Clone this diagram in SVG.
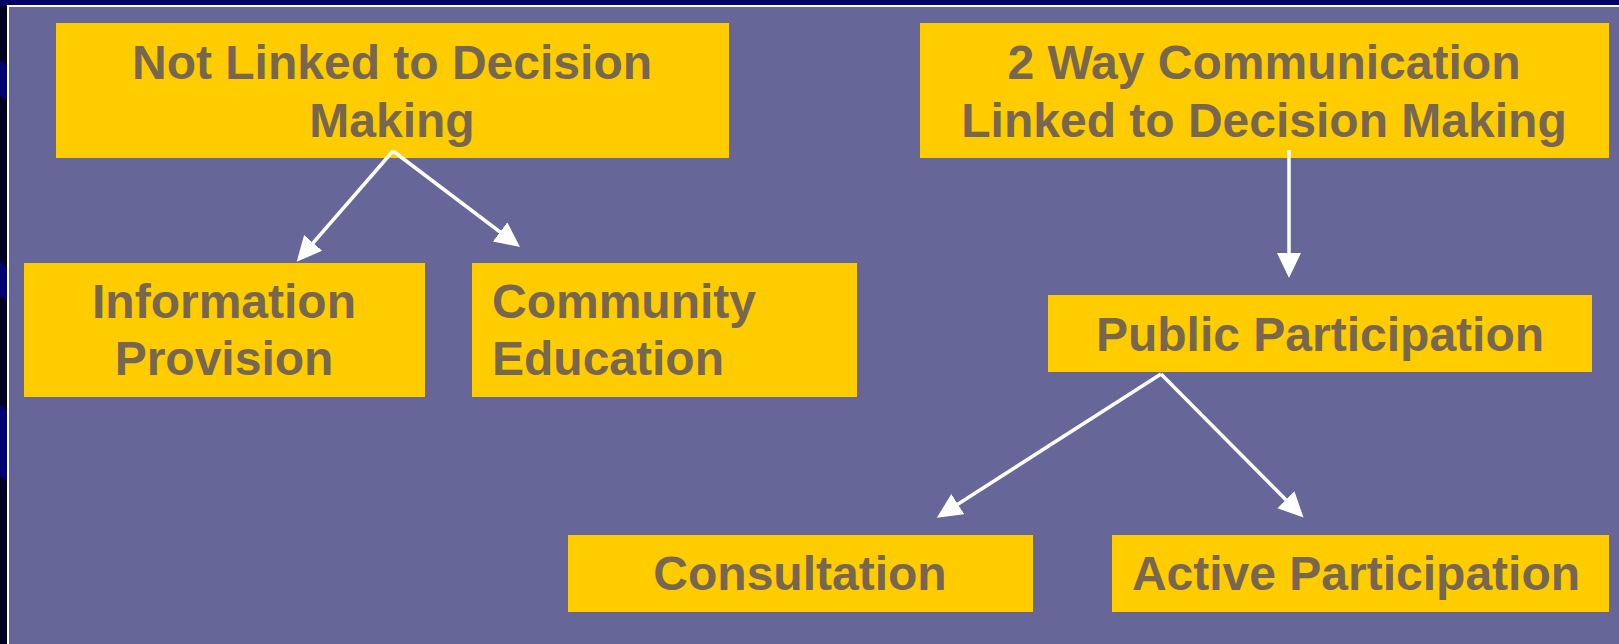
<svg xmlns="http://www.w3.org/2000/svg" width="1619" height="644" viewBox="0 0 1619 644">
  <defs>
    <style>
      .box { fill: #FFCC00; }
      .t { font-family: "Liberation Sans", Arial, sans-serif; font-weight: bold; font-size: 48px; fill: #776650; }
      .c { text-anchor: middle; }
      .edge { stroke: #FFFFFF; stroke-width: 3.5; fill: none; }
    </style>
    <marker id="ah" markerUnits="userSpaceOnUse" markerWidth="26" markerHeight="26" refX="20" refY="12" orient="auto">
      <path d="M0,0 L25,12 L0,24 Z" fill="#FFFFFF"/>
    </marker>
  </defs>
  <g id="background">
    <rect x="0" y="0" width="1619" height="644" fill="#000022"/>
    <rect x="0" y="0" width="1619" height="6" fill="#000066"/>
    <polygon points="0,60 7,66 7,100 0,96" fill="#000070"/>
    <polygon points="0,262 7,268 7,300 0,296" fill="#000070"/>
    <polygon points="0,405 7,410 7,482 0,476" fill="#000070"/>
    <rect x="7" y="5" width="1612" height="639" fill="#FFFFFF"/>
    <rect x="9" y="7" width="1610" height="637" fill="#666699"/>
  </g>
  <g id="node-not-linked">
    <rect class="box" x="56" y="23" width="673" height="135"/>
    <text class="t c" x="392" y="79">Not Linked to Decision</text>
    <text class="t c" x="392" y="137">Making</text>
  </g>
  <g id="node-2way">
    <rect class="box" x="920" y="23" width="689" height="135"/>
    <text class="t c" x="1264" y="79">2 Way Communication</text>
    <text class="t c" x="1264" y="137">Linked to Decision Making</text>
  </g>
  <g id="node-info">
    <rect class="box" x="24" y="263" width="401" height="134"/>
    <text class="t c" x="224" y="318">Information</text>
    <text class="t c" x="224" y="375">Provision</text>
  </g>
  <g id="node-community">
    <rect class="box" x="472" y="263" width="385" height="134"/>
    <text class="t" x="492" y="318">Community</text>
    <text class="t" x="492" y="375">Education</text>
  </g>
  <g id="node-public">
    <rect class="box" x="1048" y="295" width="544" height="77"/>
    <text class="t c" x="1320" y="351">Public Participation</text>
  </g>
  <g id="node-consultation">
    <rect class="box" x="568" y="535" width="465" height="77"/>
    <text class="t c" x="800" y="590">Consultation</text>
  </g>
  <g id="node-active">
    <rect class="box" x="1112" y="535" width="497" height="77"/>
    <text class="t c" x="1356" y="590">Active Participation</text>
  </g>
  <g id="edges">
    <line class="edge" x1="393" y1="151" x2="300" y2="258" marker-end="url(#ah)"/>
    <line class="edge" x1="393" y1="151" x2="516" y2="244" marker-end="url(#ah)"/>
    <line class="edge" x1="1289" y1="150" x2="1289" y2="273" stroke-width="2" marker-end="url(#ah)"/>
    <line class="edge" x1="1161" y1="374" x2="941" y2="515" marker-end="url(#ah)"/>
    <line class="edge" x1="1161" y1="374" x2="1300" y2="514" marker-end="url(#ah)"/>
  </g>
</svg>
